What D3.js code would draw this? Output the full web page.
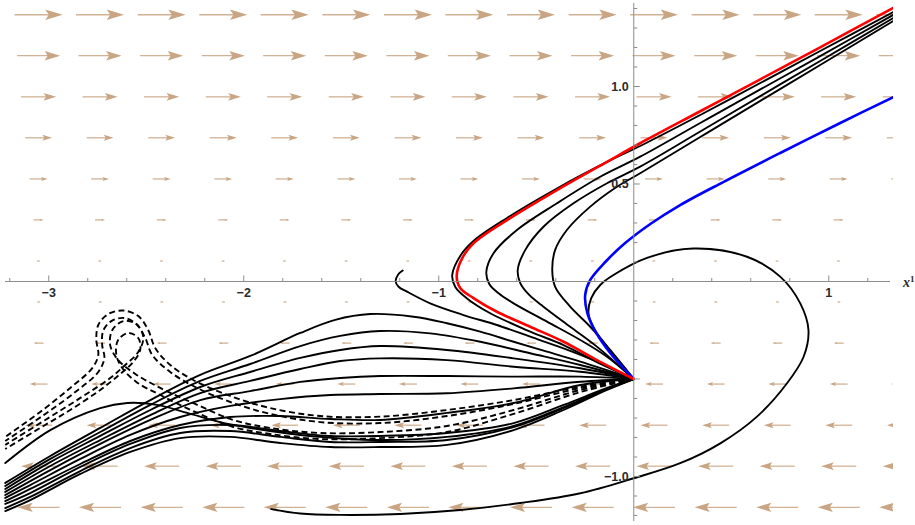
<!DOCTYPE html>
<html><head><meta charset="utf-8">
<script src="https://cdn.jsdelivr.net/npm/d3@7"></script>
<style>html,body{margin:0;padding:0;background:#fff;} svg{display:block;}</style>
</head><body>
<svg id="chart" width="915" height="525"></svg>
<script>
// ---------- vector field (horizontal component per row) ----------
const fieldColumns = [-3.052, -2.737, -2.421, -2.105, -1.790, -1.474, -1.158, -0.843, -0.527, -0.211, 0.104, 0.420, 0.736, 1.051, 1.367];
const fieldRows = [1.368, 1.158, 0.947, 0.737, 0.526, 0.316, 0.105, -0.105, -0.316, -0.526, -0.737, -0.947, -1.158];
const fieldU = [0.246, 0.221, 0.180, 0.138, 0.092, 0.051, 0.016, -0.016, -0.051, -0.092, -0.138, -0.180, -0.216];

// ---------- axis ticks ----------
const xTickLabels = [-3, -2, -1, 1];
const yTickLabels = [1.0, 0.5, -1.0];

// ---------- trajectories ----------
const redCurve = [[1.331,1.403],[0.956,1.201],[0.649,1.037],[0.341,0.873],[0.033,0.709],[-0.137,0.614],[-0.394,0.469],[-0.650,0.315],[-0.822,0.196],[-0.879,0.121],[-0.908,0.028],[-0.890,-0.033],[-0.822,-0.085],[-0.702,-0.155],[-0.531,-0.232],[-0.360,-0.309],[-0.189,-0.403],[0,-0.5]];
const blueCurve = [[1.331,0.945],[1.059,0.813],[0.751,0.659],[0.459,0.510],[0.238,0.392],[0.085,0.295],[-0.044,0.197],[-0.146,0.100],[-0.223,0.008],[-0.249,-0.069],[-0.238,-0.162],[-0.192,-0.264],[-0.121,-0.367],[0,-0.5]];
const upperA0 = [[1.331,1.382],[0.956,1.182],[0.649,1.018],[0.341,0.854],[0.033,0.695],[-0.137,0.613],[-0.394,0.477],[-0.650,0.326],[-0.822,0.208],[-0.890,0.131],[-0.931,0.033],[-0.915,-0.028],[-0.855,-0.087],[-0.736,-0.163],[-0.531,-0.257],[-0.360,-0.326],[-0.189,-0.413],[0,-0.5]];
const upperA2 = [[1.331,1.367],[0.956,1.156],[0.649,0.985],[0.341,0.813],[0.033,0.640],[-0.172,0.537],[-0.394,0.401],[-0.599,0.264],[-0.719,0.145],[-0.756,0.049],[-0.741,-0.013],[-0.695,-0.059],[-0.616,-0.112],[-0.445,-0.206],[-0.274,-0.300],[-0.137,-0.386],[0,-0.5]];
const upperA3 = [[1.331,1.351],[0.956,1.131],[0.649,0.951],[0.341,0.769],[0.033,0.589],[-0.137,0.504],[-0.309,0.401],[-0.463,0.281],[-0.556,0.162],[-0.595,0.059],[-0.582,-0.008],[-0.536,-0.069],[-0.463,-0.129],[-0.326,-0.232],[-0.189,-0.334],[0,-0.5]];
const upperA4 = [[1.331,1.336],[0.956,1.110],[0.649,0.926],[0.341,0.741],[0.033,0.555],[-0.086,0.486],[-0.223,0.384],[-0.343,0.264],[-0.403,0.162],[-0.418,0.059],[-0.403,-0.027],[-0.326,-0.129],[-0.223,-0.232],[-0.121,-0.351],[0,-0.5]];
const loopCurve = [[0,-0.5],[-0.137,-0.334],[-0.206,-0.238],[-0.232,-0.162],[-0.218,-0.085],[-0.172,-0.018],[-0.104,0.033],[0.068,0.121],[0.305,0.169],[0.581,0.127],[0.751,0.025],[0.854,-0.112],[0.896,-0.249],[0.871,-0.386],[0.786,-0.522],[0.632,-0.693],[0.444,-0.830],[0.238,-0.932],[0,-1.009],[-0.274,-1.086],[-0.582,-1.136],[-0.890,-1.172],[-1.197,-1.192],[-1.505,-1.197],[-1.710,-1.190],[-1.859,-1.167]];
const hookCurve = [[-1.185,0.056],[-1.208,0.036],[-1.221,0],[-1.206,-0.027],[-1.163,-0.052],[-1.044,-0.112],[-0.873,-0.172],[-0.702,-0.223],[-0.531,-0.283],[-0.360,-0.343],[-0.189,-0.411],[0,-0.5]];
const fanU1 = [[0,-0.5],[-0.274,-0.411],[-0.445,-0.360],[-0.616,-0.309],[-0.787,-0.257],[-0.958,-0.214],[-1.129,-0.181],[-1.351,-0.167],[-1.531,-0.197],[-1.710,-0.264],[-1.967,-0.382],[-2.223,-0.479],[-2.479,-0.608],[-2.736,-0.751],[-2.992,-0.895],[-3.223,-1.033]];
const fanU2 = [[0,-0.5],[-0.274,-0.428],[-0.531,-0.368],[-0.787,-0.309],[-1.044,-0.266],[-1.300,-0.254],[-1.505,-0.279],[-1.710,-0.331],[-1.967,-0.423],[-2.223,-0.510],[-2.479,-0.633],[-2.736,-0.772],[-2.992,-0.910],[-3.223,-1.049]];
const fanU3 = [[0,-0.5],[-0.274,-0.445],[-0.616,-0.394],[-0.958,-0.351],[-1.300,-0.331],[-1.505,-0.351],[-1.710,-0.392],[-1.967,-0.464],[-2.223,-0.541],[-2.479,-0.659],[-2.736,-0.792],[-2.992,-0.926],[-3.223,-1.064]];
const fanU4 = [[0,-0.5],[-0.274,-0.463],[-0.616,-0.437],[-0.958,-0.403],[-1.300,-0.394],[-1.505,-0.408],[-1.710,-0.449],[-1.967,-0.510],[-2.223,-0.572],[-2.479,-0.685],[-2.736,-0.813],[-2.992,-0.946],[-3.223,-1.079]];
const fanU5 = [[0,-0.5],[-0.274,-0.488],[-0.616,-0.488],[-0.958,-0.485],[-1.300,-0.485],[-1.505,-0.495],[-1.710,-0.515],[-1.967,-0.562],[-2.223,-0.608],[-2.479,-0.710],[-2.736,-0.833],[-2.992,-0.967],[-3.223,-1.095]];
const fanU6 = [[0,-0.5],[-0.274,-0.514],[-0.616,-0.548],[-0.958,-0.573],[-1.300,-0.577],[-1.556,-0.582],[-1.813,-0.603],[-2.069,-0.638],[-2.326,-0.695],[-2.582,-0.787],[-2.838,-0.910],[-3.095,-1.044],[-3.223,-1.110]];
const fanU7 = [[0,-0.5],[-0.274,-0.531],[-0.616,-0.623],[-0.958,-0.674],[-1.300,-0.710],[-1.556,-0.705],[-1.813,-0.690],[-2.069,-0.695],[-2.326,-0.736],[-2.582,-0.818],[-2.838,-0.936],[-3.095,-1.064],[-3.223,-1.126]];
const fanB1 = [[0,-0.5],[-0.137,-0.546],[-0.360,-0.633],[-0.616,-0.726],[-0.958,-0.777],[-1.300,-0.792],[-1.556,-0.792],[-1.813,-0.767],[-2.069,-0.736],[-2.326,-0.751],[-2.582,-0.833],[-2.838,-0.951],[-3.095,-1.085],[-3.223,-1.141]];
const fanB2 = [[0,-0.5],[-0.137,-0.551],[-0.360,-0.649],[-0.616,-0.746],[-0.958,-0.813],[-1.300,-0.823],[-1.556,-0.823],[-1.813,-0.797],[-2.069,-0.767],[-2.326,-0.777],[-2.582,-0.854],[-2.838,-0.972],[-3.095,-1.105],[-3.223,-1.162]];
const fanB3 = [[0,-0.5],[-0.137,-0.556],[-0.360,-0.659],[-0.616,-0.762],[-0.958,-0.838],[-1.300,-0.849],[-1.556,-0.849],[-1.813,-0.828],[-2.069,-0.797],[-2.326,-0.803],[-2.582,-0.874],[-2.838,-0.987],[-3.095,-1.121],[-3.223,-1.177]];
const fanP = [[0,-0.5],[-0.137,-0.551],[-0.360,-0.644],[-0.616,-0.741],[-0.958,-0.797],[-1.300,-0.813],[-1.710,-0.787],[-1.967,-0.751],[-2.121,-0.721],[-2.290,-0.674],[-2.444,-0.633],[-2.597,-0.623],[-2.736,-0.649],[-2.992,-0.762],[-3.223,-0.931]];
const dashD1 = [[0,-0.5],[-0.274,-0.539],[-0.616,-0.608],[-0.958,-0.659],[-1.300,-0.693],[-1.608,-0.690],[-1.864,-0.649],[-2.069,-0.587],[-2.259,-0.505],[-2.377,-0.428],[-2.454,-0.341],[-2.490,-0.249],[-2.541,-0.177],[-2.618,-0.149],[-2.695,-0.167],[-2.746,-0.223],[-2.756,-0.300],[-2.746,-0.377],[-2.777,-0.444],[-2.890,-0.546],[-3.044,-0.669],[-3.223,-0.797]];
const dashD2 = [[0,-0.5],[-0.274,-0.546],[-0.616,-0.628],[-0.958,-0.690],[-1.300,-0.726],[-1.608,-0.721],[-1.864,-0.679],[-2.069,-0.618],[-2.249,-0.541],[-2.377,-0.464],[-2.469,-0.377],[-2.505,-0.290],[-2.551,-0.218],[-2.613,-0.187],[-2.679,-0.203],[-2.721,-0.254],[-2.726,-0.326],[-2.715,-0.392],[-2.746,-0.464],[-2.864,-0.567],[-3.033,-0.690],[-3.223,-0.818]];
const dashD3 = [[0,-0.5],[-0.274,-0.556],[-0.616,-0.659],[-0.958,-0.741],[-1.300,-0.772],[-1.608,-0.777],[-1.864,-0.751],[-2.054,-0.710],[-2.249,-0.628],[-2.428,-0.546],[-2.556,-0.474],[-2.644,-0.403],[-2.685,-0.326],[-2.674,-0.249],[-2.618,-0.203],[-2.551,-0.218],[-2.515,-0.285],[-2.541,-0.362],[-2.608,-0.428],[-2.685,-0.495],[-2.838,-0.597],[-3.018,-0.710],[-3.223,-0.838]];
const dashD4 = [[0,-0.5],[-0.274,-0.567],[-0.616,-0.679],[-0.958,-0.772],[-1.300,-0.803],[-1.608,-0.808],[-1.864,-0.782],[-2.054,-0.746],[-2.249,-0.669],[-2.428,-0.582],[-2.551,-0.515],[-2.623,-0.444],[-2.654,-0.372],[-2.644,-0.300],[-2.592,-0.264],[-2.541,-0.290],[-2.531,-0.351],[-2.567,-0.413],[-2.633,-0.474],[-2.736,-0.556],[-2.890,-0.659],[-3.044,-0.751],[-3.223,-0.859]];

const blackCurves = [upperA0, upperA2, upperA3, upperA4, loopCurve, hookCurve,
  fanU1, fanU2, fanU3, fanU4, fanU5, fanU6, fanU7, fanB1, fanB2, fanB3, fanP];
const dashedCurves = [dashD1, dashD2, dashD3, dashD4];

// ---------- drawing ----------
const svg = d3.select("#chart");
const W = 893, H = 520;
const x = d3.scaleLinear().domain([-3.25, 1.33]).range([0, 893.1]);
const y = d3.scaleLinear().domain([1.4436, -1.2231]).range([0, 520]);

svg.append("defs").append("clipPath").attr("id","plotclip")
  .append("rect").attr("x",0).attr("y",0).attr("width",W).attr("height",H);

const plot = svg.append("g").attr("clip-path","url(#plotclip)");

// vector field
const arrowCol = "#c9a583";
const fieldG = plot.append("g");
fieldRows.forEach((ry, ri) => {
  const u = fieldU[ri];
  fieldColumns.forEach(cx => {
    const x0 = x(cx - u/2), x1 = x(cx + u/2);
    const yy = y(ry);
    const len = Math.abs(x1 - x0);
    const dir = Math.sign(x1 - x0) || 1;
    const hl = len * 0.36, hw = Math.max(len * 0.11, 0.6);
    fieldG.append("line")
      .attr("x1", x0).attr("y1", yy).attr("x2", x1 - dir*hl*0.6).attr("y2", yy)
      .attr("stroke", arrowCol).attr("stroke-width", 1.3).attr("stroke-opacity", 0.85);
    fieldG.append("path")
      .attr("d", `M${x1},${yy} L${x1 - dir*hl},${yy - hw} L${x1 - dir*hl*0.8},${yy} L${x1 - dir*hl},${yy + hw} Z`)
      .attr("fill", arrowCol);
  });
});

// axes
const axisCol = "#8c8c8c";
const axG = svg.append("g");
axG.append("line").attr("x1", 5).attr("x2", 890).attr("y1", y(0)).attr("y2", y(0))
  .attr("stroke", axisCol).attr("stroke-width", 1);
axG.append("line").attr("x1", x(0)).attr("x2", x(0)).attr("y1", 3).attr("y2", 521)
  .attr("stroke", axisCol).attr("stroke-width", 1);

const xt = d3.range(-16, 7).map(i => +(i*0.2).toFixed(2)).filter(v => v !== 0);
xt.forEach(v => {
  const major = Math.abs(v - Math.round(v)) < 1e-6;
  axG.append("line").attr("x1", x(v)).attr("x2", x(v))
    .attr("y1", y(0)).attr("y2", y(0) - (major ? 6 : 3.5))
    .attr("stroke", axisCol).attr("stroke-width", 1);
});
const yt = d3.range(-12, 15).map(i => +(i*0.1).toFixed(2)).filter(v => v !== 0);
yt.forEach(v => {
  const major = Math.abs(v*2 - Math.round(v*2)) < 1e-6;
  axG.append("line").attr("y1", y(v)).attr("y2", y(v))
    .attr("x1", x(0)).attr("x2", x(0) + (major ? 6 : 3.5))
    .attr("stroke", axisCol).attr("stroke-width", 1);
});

const fmt = v => (v < 0 ? "\u2212" : "") + Math.abs(v);
const lblStyle = sel => sel.attr("font-family", "'Liberation Sans', Arial, sans-serif")
  .attr("font-size", 12.5).attr("font-weight", "bold").attr("fill", "#2b2b2b");

xTickLabels.forEach(v => {
  axG.append("text").attr("x", x(v)).attr("y", y(0) + 16).attr("text-anchor", "middle")
    .text(fmt(v)).call(lblStyle);
});
yTickLabels.forEach(v => {
  axG.append("text").attr("x", x(0) - 5).attr("y", y(v) + 4.5).attr("text-anchor", "end")
    .text((v < 0 ? "\u2212" : "") + Math.abs(v).toFixed(1)).call(lblStyle);
});

const xl = axG.append("text").attr("x", 903).attr("y", y(0) + 6)
  .attr("font-family", "'Liberation Serif', 'Times New Roman', serif")
  .attr("font-size", 14).attr("font-style", "italic").attr("font-weight", "bold").attr("fill", "#2b2b2b");
xl.append("tspan").text("x");
xl.append("tspan").attr("dy", -5).attr("font-size", 9).attr("font-style", "normal").text("1");

// curves
const line = d3.line().x(d => x(d[0])).y(d => y(d[1])).curve(d3.curveCatmullRom.alpha(0.5));
const curveG = plot.append("g").attr("fill", "none").attr("stroke-linejoin", "round").attr("stroke-linecap", "round");

dashedCurves.forEach(c => {
  curveG.append("path").attr("d", line(c)).attr("stroke", "#000")
    .attr("stroke-width", 1.9).attr("stroke-dasharray", "6,3.5").attr("stroke-linecap", "butt");
});
blackCurves.forEach(c => {
  curveG.append("path").attr("d", line(c)).attr("stroke", "#000").attr("stroke-width", 1.9);
});
curveG.append("path").attr("d", line(blueCurve)).attr("stroke", "#0000ff").attr("stroke-width", 2.6);
curveG.append("path").attr("d", line(redCurve)).attr("stroke", "#ff0000").attr("stroke-width", 2.6);
</script>
</body></html>
